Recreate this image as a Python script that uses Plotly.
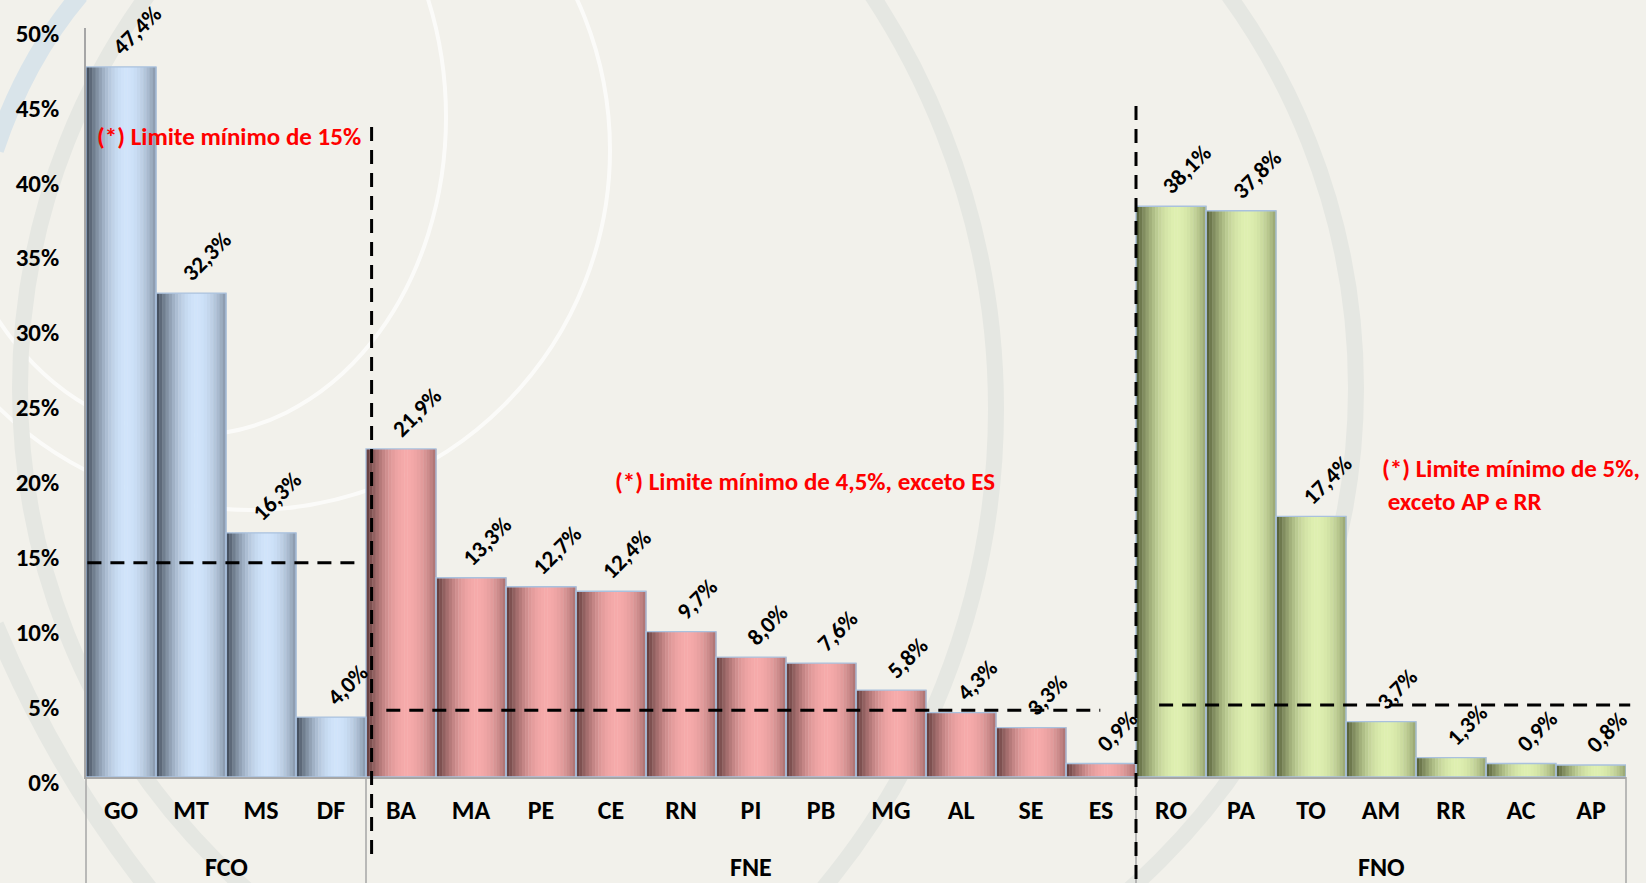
import plotly.graph_objects as go

# ---------------- data ----------------
fco_states = ["GO", "MT", "MS", "DF"]
fco_values = [47.4, 32.3, 16.3, 4.0]
fne_states = ["BA", "MA", "PE", "CE", "RN", "PI", "PB", "MG", "AL", "SE", "ES"]
fne_values = [21.9, 13.3, 12.7, 12.4, 9.7, 8.0, 7.6, 5.8, 4.3, 3.3, 0.9]
fno_states = ["RO", "PA", "TO", "AM", "RR", "AC", "AP"]
fno_values = [38.1, 37.8, 17.4, 3.7, 1.3, 0.9, 0.8]
group_names = ["FCO", "FNE", "FNO"]
limit_values = [14.3, 4.45, 4.8]          # dashed minimum-limit lines, as drawn
y_tick_values = [0, 5, 10, 15, 20, 25, 30, 35, 40, 45, 50]
y_tick_labels = ["0%", "5%", "10%", "15%", "20%", "25%", "30%", "35%", "40%", "45%", "50%"]

group_states = [fco_states, fne_states, fno_states]
group_values = [fco_values, fne_values, fno_values]

states = fco_states + fne_states + fno_states
values = fco_values + fne_values + fno_values
group_of = [g for g, s in zip(group_names, group_states) for _ in s]
n_cat = len(states)

# ---------------- styling ----------------
W, H = 1646, 883
L, R, T, B = 86, 20, 28, 106
PW, PH = W - L - R, H - T - B
FONT = "Carlito, Lato, 'Open Sans', sans-serif"
BG = "#f2f1eb"

dark = {"FCO": (60, 70, 84), "FNE": (92, 56, 56), "FNO": (78, 88, 50)}
light = {"FCO": (208, 228, 251), "FNE": (246, 170, 170), "FNO": (222, 239, 176)}


def mix(c1, c2, t):
    return "rgb(%d,%d,%d)" % tuple(round(a + (b - a) * t) for a, b in zip(c1, c2))


def profile(s):
    if s < 0.58:
        return 1 - (1 - s / 0.58) ** 2
    return 1 - 0.5 * ((s - 0.58) / 0.42) ** 2


def px(x):
    return (x - L) / PW


def py(y):
    return (H - B - y) / PH


fig = go.Figure()

# cylinder-like shading: vertical strips of each bar
N = 22
for k in range(N):
    s = (k + 0.5) / N
    f = profile(s)
    cols = [mix(dark[g], light[g], f) for g in group_of]
    fig.add_trace(go.Bar(
        x=states, y=values,
        width=1.0 / N + 0.006, offset=-0.5 + k / N,
        marker=dict(color=cols, line=dict(width=0)),
        hoverinfo="skip", showlegend=False,
    ))

fig.add_trace(go.Bar(
    x=states, y=values, width=1.0, offset=-0.5,
    marker=dict(color="rgba(0,0,0,0)", line=dict(color="#a9c1de", width=1.3)),
    showlegend=False,
))

labels = [("%.1f%%" % v).replace(".", ",") for v in values]

annotations = []
for st, v, lab in zip(states, values, labels):
    annotations.append(dict(text=lab, x=st, y=v, xref="x", yref="y",
                            xanchor="center", yanchor="bottom", xshift=16, yshift=5,
                            textangle=-45, showarrow=False, borderpad=0,
                            font=dict(family=FONT, size=23, color="black", weight="bold")))

shapes = []
# decorative background arcs
deco_w = "rgba(255,255,255,0.7)"
deco_g = "#e5e7e2"
for (cx, cy, rx, ry, col, lw) in [
    (193, 117, 253, 318, deco_w, 4),
    (250, 150, 360, 360, deco_w, 4),
    (245, 409, 751, 751, deco_g, 16),
    (688, 388, 668, 668, deco_g, 16),
]:
    shapes.append(dict(type="circle", xref="paper", yref="paper",
                       x0=px(cx - rx), x1=px(cx + rx), y0=py(cy + ry), y1=py(cy - ry),
                       line=dict(color=col, width=lw), layer="below"))
shapes.append(dict(type="path", xref="paper", yref="paper", layer="below",
                   path="M %f %f Q %f %f %f %f" % (px(80), py(-5), px(25), py(60), px(-5), py(150)),
                   line=dict(color="#d9e4ea", width=18)))
shapes.append(dict(type="path", xref="paper", yref="paper", layer="below",
                   path="M %f %f Q %f %f %f %f" % (px(-5), py(625), px(55), py(770), px(150), py(890)),
                   line=dict(color=deco_g, width=18)))

# group boundaries (category indices)
bounds = [0]
for s in group_states:
    bounds.append(bounds[-1] + len(s))

# dividers in the label area
for b in bounds:
    shapes.append(dict(type="line", xref="paper", yref="paper",
                       x0=b / n_cat, x1=b / n_cat, y0=0, y1=py(H + 5),
                       line=dict(color="#a6a6a6", width=1.5)))

# dashed vertical separators
dash_pat = "14px,9px"
shapes.append(dict(type="line", xref="paper", yref="paper",
                   x0=(bounds[1] + 0.08) / n_cat, x1=(bounds[1] + 0.08) / n_cat,
                   y0=py(127), y1=py(862), line=dict(color="black", width=3, dash=dash_pat)))
shapes.append(dict(type="line", xref="paper", yref="paper",
                   x0=bounds[2] / n_cat, x1=bounds[2] / n_cat,
                   y0=py(106), y1=py(H + 5), line=dict(color="black", width=3, dash=dash_pat)))

# dashed horizontal limit lines (x spans in category units)
spans = [(0.02, 3.9), (4.29, 14.49), (15.33, 22.06)]
for lim, (a, b) in zip(limit_values, spans):
    shapes.append(dict(type="line", xref="paper", yref="y",
                       x0=a / n_cat, x1=b / n_cat, y0=lim, y1=lim,
                       line=dict(color="black", width=3, dash=dash_pat)))

for g, (b0, b1) in zip(group_names, zip(bounds[:-1], bounds[1:])):
    annotations.append(dict(text=g, xref="paper", yref="paper",
                            x=(b0 + b1) / 2 / n_cat, y=py(867),
                            xanchor="center", yanchor="middle", showarrow=False,
                            font=dict(family=FONT, size=26, color="black", weight="bold")))

red = dict(family=FONT, size=25, color="#ff0000", weight="bold")
annotations.append(dict(text="(*) Limite mínimo de 15%", xref="paper", yref="paper",
                        x=px(95), y=py(137), xanchor="left", yanchor="middle",
                        showarrow=False, font=red))
annotations.append(dict(text="(*) Limite mínimo de 4,5%, exceto ES", xref="paper", yref="paper",
                        x=px(613), y=py(482), xanchor="left", yanchor="middle",
                        showarrow=False, font=red))
annotations.append(dict(text="(*) Limite mínimo de 5%,<br> exceto AP e RR", xref="paper", yref="paper",
                        x=px(1380), y=py(485), xanchor="left", yanchor="middle", align="left",
                        showarrow=False, font=red))

fig.update_layout(
    width=W, height=H,
    margin=dict(l=L, r=R, t=T, b=B),
    paper_bgcolor=BG, plot_bgcolor="rgba(0,0,0,0)",
    barmode="overlay",
    shapes=shapes, annotations=annotations,
    font=dict(family=FONT, color="black"),
    xaxis=dict(type="category", categoryorder="array", categoryarray=states,
               range=[-0.5, n_cat - 0.5], showgrid=False, zeroline=False,
               showline=True, linecolor="#a6a6a6", linewidth=1.5,
               tickfont=dict(family=FONT, size=26, color="black", weight="bold"),
               ticks="", ticklabelstandoff=9),
    yaxis=dict(range=[0, 50], tickvals=y_tick_values, ticktext=y_tick_labels,
               showgrid=False, zeroline=False, showline=True,
               linecolor="#a6a6a6", linewidth=1.5, ticks="",
               tickfont=dict(family=FONT, size=25, color="black", weight="bold"),
               ticklabelstandoff=20, ticklabelshift=5),
)

fig.write_html("out.html", config={"displayModeBar": False},
               post_script="document.body.style.margin='0';document.body.style.overflow='hidden';")
